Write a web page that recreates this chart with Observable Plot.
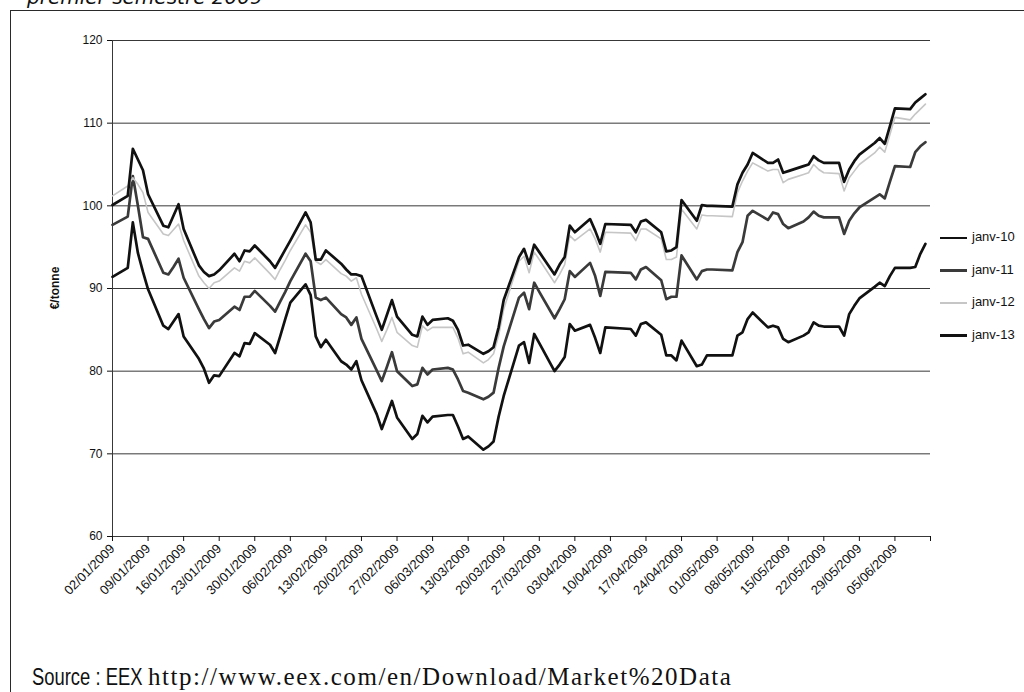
<!DOCTYPE html>
<html>
<head>
<meta charset="utf-8">
<script src="https://cdn.jsdelivr.net/npm/d3@7"></script>
<script src="https://cdn.jsdelivr.net/npm/@observablehq/plot@0.6"></script>
<style>
  html, body { margin: 0; padding: 0; background: #fff; width: 1024px; height: 692px; overflow: hidden; }
  #page { position: relative; width: 1024px; height: 692px; overflow: hidden; }
  #frame { position: absolute; left: 10px; top: 10px; width: 1030px; height: 700px; border: 1.5px solid #2a2a2a; box-sizing: border-box; }
  #title { position: absolute; left: 27px; top: -13px; font-family: "DejaVu Sans", sans-serif; font-style: italic; font-size: 20px; line-height: 20px; color: #111; white-space: nowrap; }
  #chart { position: absolute; left: 0; top: 0; }
  #ylabel { position: absolute; left: 55px; top: 288px; transform: translate(-50%, -50%) rotate(-90deg); font-family: "Liberation Sans", Arial, sans-serif; font-weight: bold; font-size: 12px; color: #111; white-space: nowrap; }
  #legend { position: absolute; left: 940px; top: 0; font-family: "Liberation Sans", Arial, sans-serif; font-size: 13px; color: #111; }
  .lg { position: absolute; left: 0; white-space: nowrap; height: 16px; }
  .lg .sw { position: absolute; left: 0; top: 7px; width: 27px; }
  .lg .tx { position: absolute; left: 32px; top: -1px; line-height: 16px; }
  #source { position: absolute; left: 32px; top: 663px; white-space: nowrap; color: #111; line-height: 28px; }
  #source .s1 { display: inline-block; width: 116px; overflow: visible; transform: scaleX(0.8); transform-origin: left center; font-family: "Liberation Sans", Arial, sans-serif; font-size: 23px; }
  #source .s2 { font-family: "Liberation Serif", "Times New Roman", serif; font-size: 25px; letter-spacing: 1.55px; }
</style>
</head>
<body>
<div id="page">
  <div id="frame"></div>
  <div id="title">premier semestre 2009</div>
  <div id="chart"></div>
  <div id="ylabel">€/tonne</div>
  <div id="legend"></div>
  <div id="source"><span class="s1">Source : EEX</span><span class="s2">http://www.eex.com/en/Download/Market%20Data</span></div>
</div>
<script>
// ---- Data ----
const seriesNames = ["janv-10", "janv-11", "janv-12", "janv-13"];

// trading days: weekdays from 02/01/2009 to 11/06/2009, minus exchange holidays
const firstDay = "2009-01-02";
const lastDay = "2009-06-11";
const holidays = ["2009-04-10", "2009-04-13", "2009-05-01"];

const janv10 = [91.4,
  92.5, 98.0, 94.3, 92.0, 89.9,
  85.5, 85.1, 86.0, 86.9, 84.2,
  81.5, 80.3, 78.6, 79.5, 79.4,
  82.2, 81.8, 83.4, 83.3, 84.6,
  83.2, 82.2, 84.2, 86.3, 88.3,
  90.5, 89.2, 84.2, 82.9, 83.8,
  81.2, 80.8, 80.2, 81.2, 78.9,
  74.8, 73.0, 74.7, 76.4, 74.4,
  71.8, 72.4, 74.6, 73.8, 74.5,
  74.7, 74.7, 73.3, 71.8, 72.1,
  70.5, 70.9, 71.5, 74.5, 77.0,
  83.1, 83.5, 81.0, 84.5, 83.4,
  80.0, 80.8, 81.7, 85.7, 84.9,
  85.6, 84.0, 82.2, 85.3,
  85.1, 84.3, 85.7, 85.9,
  84.4, 81.9, 81.9, 81.3, 83.7,
  80.6, 80.8, 81.9, 81.9,
  81.9, 84.3, 84.7, 86.3, 87.1,
  85.3, 85.5, 85.3, 83.9, 83.5,
  84.3, 84.7, 85.9, 85.5, 85.4,
  85.4, 84.3, 86.9, 87.9, 88.8,
  90.2, 90.7, 90.3, 91.5, 92.5,
  92.5, 92.6, 94.2, 95.4];

const janv11 = [97.7,
  98.7, 103.6, 100.0, 96.2, 96.0,
  91.9, 91.7, 92.6, 93.6, 91.3,
  87.5, 86.3, 85.2, 86.0, 86.2,
  87.8, 87.4, 89.0, 89.0, 89.7,
  87.9, 87.2, 88.4, 89.6, 90.9,
  94.2, 93.3, 88.9, 88.6, 88.9,
  86.9, 86.5, 85.6, 86.5, 83.9,
  80.1, 78.8, 80.5, 82.3, 80.0,
  78.2, 78.4, 80.4, 79.6, 80.2,
  80.4, 80.2, 79.0, 77.6, 77.4,
  76.6, 76.9, 77.4, 80.4, 83.0,
  88.9, 89.5, 87.5, 90.7, 89.6,
  86.4, 87.5, 88.7, 92.1, 91.4,
  93.1, 91.5, 89.1, 92.0,
  91.9, 91.1, 92.3, 92.6,
  91.0, 88.7, 89.0, 89.0, 94.0,
  91.1, 92.1, 92.3, 92.3,
  92.2, 94.4, 95.6, 98.8, 99.4,
  98.3, 99.2, 99.0, 97.8, 97.3,
  98.1, 98.6, 99.3, 98.8, 98.6,
  98.6, 96.6, 98.2, 99.1, 99.8,
  101.0, 101.4, 100.9, 102.9, 104.8,
  104.7, 106.5, 107.2, 107.7];

const janv12 = [101.2,
  102.4, 103.4, 102.6, 101.6, 99.2,
  96.6, 96.4, 97.1, 97.8, 95.8,
  91.5, 90.7, 90.0, 90.7, 90.9,
  92.5, 92.1, 93.3, 93.1, 93.7,
  91.8, 91.1, 92.3, 93.4, 94.6,
  97.7, 96.8, 93.3, 92.9, 93.5,
  91.8, 91.5, 90.9, 91.3, 89.3,
  85.1, 83.6, 85.0, 86.5, 84.7,
  83.1, 82.9, 85.5, 84.9, 85.3,
  85.3, 85.3, 84.0, 82.1, 82.3,
  81.0, 81.4, 82.1, 84.3, 87.5,
  93.3, 93.9, 91.9, 94.4, 93.5,
  90.7, 91.7, 92.9, 96.4, 95.8,
  97.2, 96.0, 94.4, 96.8,
  96.7, 95.8, 97.2, 97.2,
  96.0, 93.5, 93.5, 93.8, 99.6,
  97.2, 98.9, 98.8, 98.8,
  98.7, 101.6, 103.0, 104.2, 105.2,
  104.2, 104.4, 104.4, 102.8, 103.2,
  103.8, 104.0, 105.0, 104.4, 104.0,
  103.9, 101.8, 103.4, 104.2, 105.0,
  106.4, 107.1, 106.5, 108.6, 110.7,
  110.4, 111.1, 111.7, 112.3];

const janv13 = [100.1,
  101.2, 106.9, 105.6, 104.3, 101.4,
  97.6, 97.4, 98.8, 100.2, 97.2,
  92.8, 92.0, 91.5, 91.7, 92.2,
  94.2, 93.3, 94.6, 94.5, 95.2,
  93.3, 92.5, 93.6, 94.7, 95.8,
  99.2, 98.0, 93.5, 93.5, 94.6,
  93.0, 92.3, 91.7, 91.7, 91.5,
  86.6, 85.0, 86.8, 88.6, 86.6,
  84.4, 84.2, 86.6, 85.6, 86.2,
  86.4, 86.1, 85.0, 83.1, 83.2,
  82.1, 82.4, 82.9, 85.3, 88.6,
  93.8, 94.8, 93.0, 95.3, 94.4,
  91.7, 92.9, 93.8, 97.6, 96.8,
  98.4, 97.0, 95.4, 97.8,
  97.7, 96.8, 98.1, 98.3,
  96.8, 94.5, 94.6, 95.0, 100.7,
  98.2, 100.1, 100.0, 100.0,
  99.9, 102.6, 104.0, 105.0, 106.4,
  105.2, 105.2, 105.6, 104.0, 104.2,
  104.8, 105.0, 106.0, 105.5, 105.2,
  105.2, 102.9, 104.4, 105.4, 106.2,
  107.6, 108.2, 107.5, 109.6, 111.8,
  111.7, 112.5, 113.0, 113.5];

const xTickLabels = ["02/01/2009", "09/01/2009", "16/01/2009", "23/01/2009", "30/01/2009",
  "06/02/2009", "13/02/2009", "20/02/2009", "27/02/2009", "06/03/2009", "13/03/2009",
  "20/03/2009", "27/03/2009", "03/04/2009", "10/04/2009", "17/04/2009", "24/04/2009",
  "01/05/2009", "08/05/2009", "15/05/2009", "22/05/2009", "29/05/2009", "05/06/2009"];
const xAxisEnd = "12/06/2009";
const yTicks = [60, 70, 80, 90, 100, 110, 120];

// ---- Build table ----
const parseDMY = s => { const [d, m, y] = s.split("/").map(Number); return new Date(Date.UTC(y, m - 1, d)); };
const hol = new Set(holidays);
const tradingDays = d3.utcDays(new Date(firstDay), d3.utcDay.offset(new Date(lastDay), 1))
  .filter(d => d.getUTCDay() !== 0 && d.getUTCDay() !== 6 && !hol.has(d.toISOString().slice(0, 10)));

const valuesBySeries = [janv10, janv11, janv12, janv13];
const rows = [];
seriesNames.forEach((name, k) => {
  valuesBySeries[k].forEach((v, i) => rows.push({series: name, date: tradingDays[i], value: v}));
});

const tickDates = xTickLabels.map(parseDMY).concat([parseDMY(xAxisEnd)]);
const labelByTime = new Map(xTickLabels.map(s => [parseDMY(s).getTime(), s]));

const styles = {
  "janv-10": {stroke: "#111111", strokeWidth: 2.7},
  "janv-11": {stroke: "#3a3a3a", strokeWidth: 2.7},
  "janv-12": {stroke: "#c6c6c6", strokeWidth: 1.6},
  "janv-13": {stroke: "#111111", strokeWidth: 2.7}
};

const chart = Plot.plot({
  width: 1024,
  height: 620,
  marginLeft: 112,
  marginRight: 94,
  marginTop: 40,
  marginBottom: 84,
  style: {fontFamily: "'Liberation Sans', Arial, sans-serif", fontSize: "12px", color: "#111", background: "transparent"},
  x: {type: "utc", domain: [tickDates[0], tickDates[tickDates.length - 1]]},
  y: {domain: [60, 120]},
  marks: [
    Plot.gridY(yTicks, {stroke: "#383838", strokeOpacity: 1, strokeWidth: 1}),
    Plot.ruleX([tickDates[0]], {stroke: "#383838", strokeWidth: 1}),
    Plot.axisY(yTicks, {tickSize: 5, tickPadding: 5, label: null, fontSize: 12}),
    Plot.axisX(tickDates, {
      tickFormat: d => labelByTime.get(d.getTime()) || "",
      tickRotate: -45, tickSize: 5, tickPadding: 5, label: null, fontSize: 13
    }),
    ...seriesNames.map(name => Plot.line(rows.filter(r => r.series === name), {
      x: "date", y: "value", stroke: styles[name].stroke, strokeWidth: styles[name].strokeWidth,
      strokeLinejoin: "round"
    }))
  ]
});
document.getElementById("chart").appendChild(chart);

// ---- Legend ----
const legend = document.getElementById("legend");
const legendY = [238, 270.5, 303, 335.5];
seriesNames.forEach((name, k) => {
  const row = document.createElement("div");
  row.className = "lg";
  row.style.top = (legendY[k] - 8) + "px";
  const sw = document.createElement("div");
  sw.className = "sw";
  sw.style.height = styles[name].strokeWidth + "px";
  sw.style.marginTop = (-styles[name].strokeWidth / 2 + 1) + "px";
  sw.style.background = styles[name].stroke;
  const tx = document.createElement("div");
  tx.className = "tx";
  tx.textContent = name;
  row.appendChild(sw);
  row.appendChild(tx);
  legend.appendChild(row);
});
</script>
</body>
</html>
